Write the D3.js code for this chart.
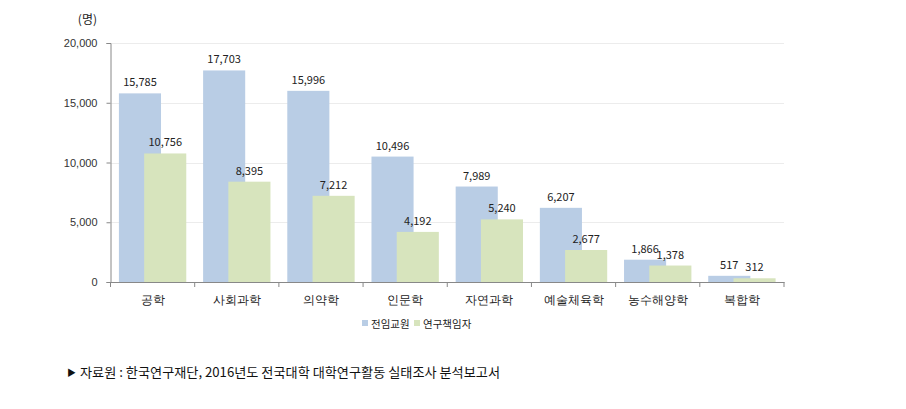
<!DOCTYPE html>
<html><head><meta charset="utf-8">
<script src="https://cdn.jsdelivr.net/npm/d3@7/dist/d3.min.js"></script>
<style>body{margin:0;background:#fff}svg{display:block;font-family:"Noto Sans CJK KR","Noto Sans",sans-serif}</style>
</head><body><svg id="c" width="906" height="409"></svg>
<script>
const categories = ["공학","사회과학","의약학","인문학","자연과학","예술체육학","농수해양학","복합학"];
const faculty = [15785,17703,15996,10496,7989,6207,1866,517];
const researchers = [10756,8395,7212,4192,5240,2677,1378,312];
const seriesNames = ["전임교원","연구책임자"];
const yTicks = [0,5000,10000,15000,20000];
const colors = ["#b9cde5","#d7e4bd"];

(function(){
const svg = d3.select("#c");
const mLeft = 110.5, mRight = 784, mTop = 43, mBottom = 282;
const x = d3.scaleBand().domain(categories).range([mLeft, mRight]);
const y = d3.scaleLinear().domain([0,20000]).range([mBottom, mTop]);
const fmt = d3.format(",");
const bw = x.bandwidth();
const barW = bw*0.5;
const offs = [bw*0.1, bw*0.4];

svg.append("g").selectAll("line").data(yTicks.slice(1)).join("line")
  .attr("x1", mLeft).attr("x2", mRight).attr("y1", d=>Math.round(y(d))+0.5).attr("y2", d=>Math.round(y(d))+0.5)
  .attr("stroke","#ececec");

[faculty, researchers].forEach((vals, si) => {
  svg.append("g").selectAll("rect").data(vals).join("rect")
    .attr("x", (d,i)=>x(categories[i])+offs[si]).attr("width", barW)
    .attr("y", d=>y(d)).attr("height", d=>y(0)-y(d)).attr("fill", colors[si]);
});
[faculty, researchers].forEach((vals, si) => {
  svg.append("g").selectAll("text").data(vals).join("text")
    .attr("x", (d,i)=>x(categories[i])+offs[si]+barW/2).attr("y", d=>y(d)-7)
    .attr("text-anchor","middle").attr("font-size",11).attr("fill","#222")
    .text(d=>fmt(d));
});

const ya = svg.append("g").attr("transform",`translate(${mLeft},0)`)
  .call(d3.axisLeft(y).tickValues(yTicks).tickFormat(fmt).tickSize(4).tickPadding(9));
ya.select(".domain").attr("stroke","#888");
ya.selectAll(".tick line").attr("stroke","#888");
ya.selectAll(".tick text").attr("font-size",11).attr("fill","#333").attr("font-family","inherit");

const xa = svg.append("g").attr("transform",`translate(0,${mBottom})`)
  .call(d3.axisBottom(x).tickSize(0).tickPadding(14));
xa.select(".domain").attr("stroke","#888");
xa.selectAll(".tick text").attr("font-size",11.5).attr("fill","#222").attr("font-family","inherit");
svg.append("g").selectAll("line").data(categories.concat(["_end"])).join("line")
  .attr("x1",(d,i)=>mLeft+i*bw).attr("x2",(d,i)=>mLeft+i*bw)
  .attr("y1",mBottom).attr("y2",mBottom+5).attr("stroke","#888");

svg.append("text").attr("x",97).attr("y",24).attr("text-anchor","end").attr("font-size",12).attr("fill","#222").text("(명)");

const lg = svg.append("g");
const lx = [362, 414];
seriesNames.forEach((n,i)=>{
  lg.append("rect").attr("x",lx[i]).attr("y",320).attr("width",6).attr("height",6).attr("fill",colors[i]);
  lg.append("text").attr("x",lx[i]+9).attr("y",327.5).attr("font-size",10.5).attr("fill","#222").text(n);
});

const src = svg.append("text").attr("x",67).attr("y",377).attr("font-size",13).attr("fill","#111");
src.append("tspan").attr("font-size",9).attr("dy",-1).text("▶");
src.append("tspan").attr("dy",1).attr("dx",4)
  .attr("textLength",420).attr("lengthAdjust","spacingAndGlyphs")
  .text("자료원 : 한국연구재단, 2016년도 전국대학 대학연구활동 실태조사 분석보고서");
})();
</script></body></html>
